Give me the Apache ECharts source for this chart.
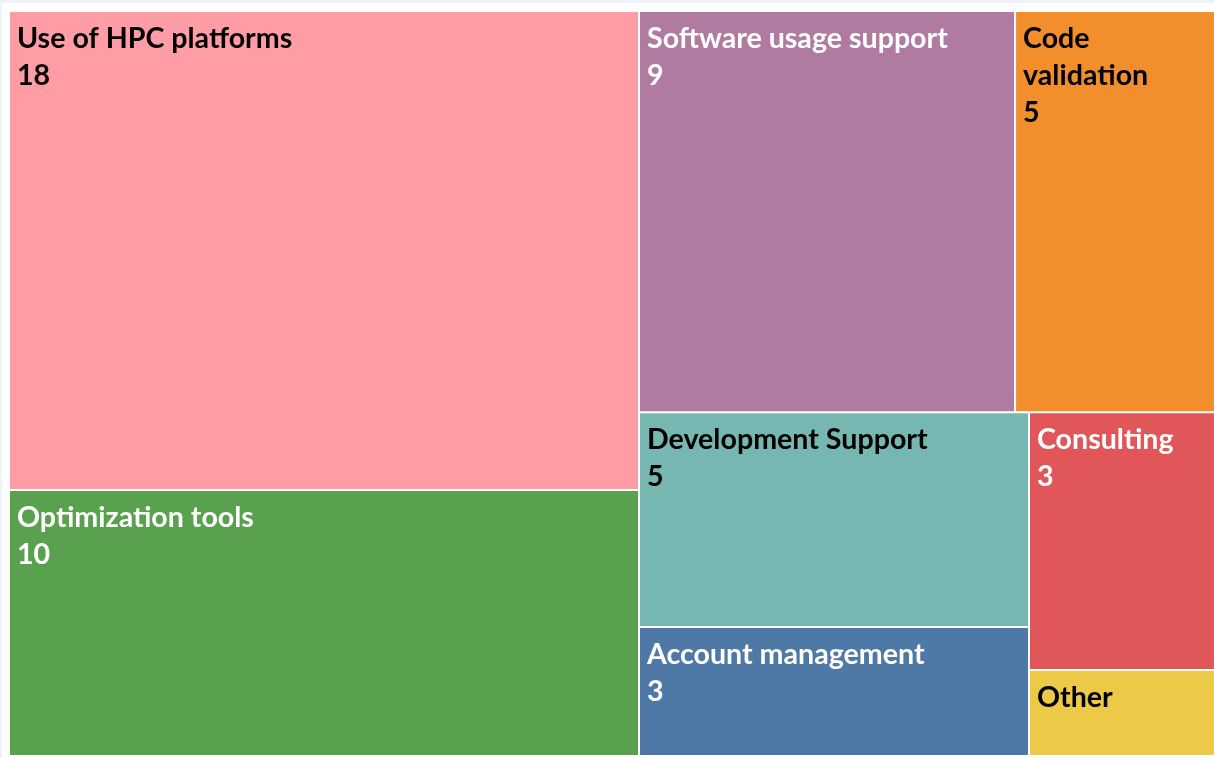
<!DOCTYPE html>
<html>
<head>
<meta charset="utf-8">
<script src="https://cdn.jsdelivr.net/npm/echarts@6/dist/echarts.min.js"></script>
<style>
html,body{margin:0;padding:0;background:#fff;overflow:hidden;}
#frame{position:absolute;left:0;top:0;width:1214px;height:758px;box-sizing:border-box;border-top:3px solid #edf3f9;border-left:2px solid #edf3f9;}
#chart{position:absolute;left:0;top:0;width:1214px;height:758px;}
</style>
</head>
<body>
<div id="frame"></div>
<div id="chart"></div>
<script>
// Data (in layout order)
const categories = ["Use of HPC platforms", "Optimization tools", "Software usage support", "Code validation", "Development Support", "Account management", "Consulting", "Other"];
const counts = [18, 10, 9, 5, 5, 3, 3, 1];
const hideValueFor = ["Other"];
const wrappedNames = { "Code validation": "Code\nvalidation" };

// Styles
const fillColors = ["#FF9DA7", "#59A14F", "#B07AA1", "#F28E2B", "#76B7B2", "#4E79A7", "#E15759", "#EDC948"];
const textColors = ["#000000", "#FFFFFF", "#FFFFFF", "#000000", "#000000", "#FFFFFF", "#FFFFFF", "#000000"];

const seriesData = categories.map((name, i) => ({
  name: name,
  value: counts[i],
  itemStyle: { color: fillColors[i] },
  label: { color: textColors[i] }
}));

const chart = echarts.init(document.getElementById('chart'), null, { renderer: 'canvas' });
chart.setOption({
  animation: false,
  tooltip: { show: false },
  series: [{
    type: 'treemap',
    left: 8,
    top: 10,
    width: 1217,
    height: 747,
    roam: false,
    nodeClick: false,
    breadcrumb: { show: false },
    sort: false,
    itemStyle: { borderColor: '#ffffff', borderWidth: 1, gapWidth: 0 },
    label: {
      show: true,
      position: 'insideTopLeft',
      padding: [8, 0, 0, 7],
      fontFamily: 'Lato',
      fontWeight: 'bold',
      fontSize: 28.6,
      lineHeight: 37,
      overflow: 'none',
      formatter: function (p) {
        const shown = wrappedNames[p.name] || p.name;
        return hideValueFor.indexOf(p.name) >= 0 ? shown : shown + '\n' + p.value;
      }
    },
    upperLabel: { show: false },
    data: seriesData
  }]
});
</script>
</body>
</html>
